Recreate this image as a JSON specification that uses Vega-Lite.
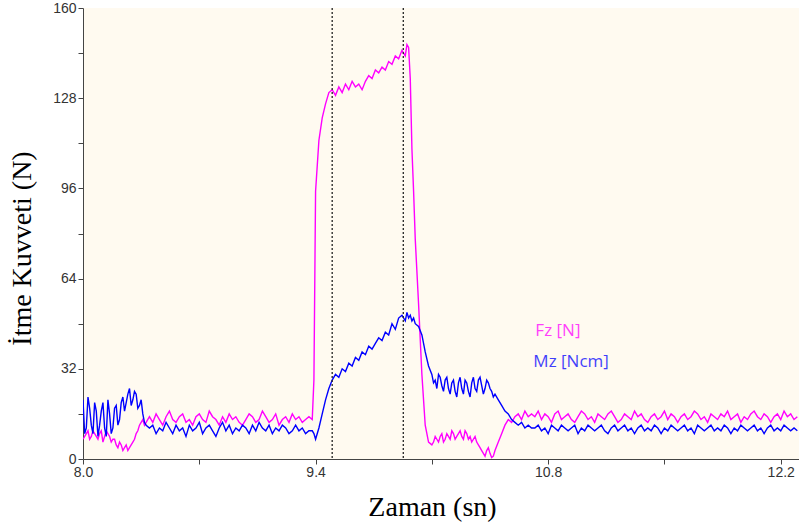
{
  "$schema": "https://vega.github.io/schema/vega-lite/v6.json",
  "width": 716,
  "height": 451,
  "autosize": {"type": "none"},
  "padding": {"left": 83, "top": 8, "right": 0, "bottom": 71},
  "background": "white",
  "config": {
    "view": {"fill": "#FFFAF0", "stroke": null},
    "axis": {
      "grid": false,
      "domainColor": "#444",
      "tickColor": "#444",
      "tickSize": 5,
      "labelColor": "#333",
      "labelFont": "Liberation Sans",
      "labelFontSize": 14,
      "labelFlush": false,
      "labelOverlap": false,
      "titleFont": "Liberation Serif",
      "titleFontWeight": "normal",
      "titleColor": "#000"
    }
  },
  "layer": [
    {
      "data": {
        "values": [
          {"t": 8.00, "fz": 7, "mz": 21}, {"t": 8.01, "fz": 8, "mz": 9}, {"t": 8.02, "fz": 9, "mz": 11}, {"t": 8.03, "fz": 10, "mz": 22},
          {"t": 8.04, "fz": 7, "mz": 18}, {"t": 8.05, "fz": 8, "mz": 12}, {"t": 8.06, "fz": 10, "mz": 9}, {"t": 8.07, "fz": 9, "mz": 20},
          {"t": 8.08, "fz": 8, "mz": 17}, {"t": 8.09, "fz": 7, "mz": 8}, {"t": 8.10, "fz": 9, "mz": 12}, {"t": 8.11, "fz": 10, "mz": 17},
          {"t": 8.12, "fz": 6, "mz": 20}, {"t": 8.13, "fz": 8, "mz": 11}, {"t": 8.14, "fz": 10, "mz": 8}, {"t": 8.15, "fz": 9, "mz": 21},
          {"t": 8.16, "fz": 8, "mz": 16}, {"t": 8.17, "fz": 6, "mz": 9}, {"t": 8.18, "fz": 7, "mz": 11}, {"t": 8.19, "fz": 7, "mz": 18},
          {"t": 8.20, "fz": 5, "mz": 19}, {"t": 8.21, "fz": 4, "mz": 12}, {"t": 8.22, "fz": 6, "mz": 14}, {"t": 8.23, "fz": 5, "mz": 20},
          {"t": 8.24, "fz": 3, "mz": 22}, {"t": 8.25, "fz": 4, "mz": 17}, {"t": 8.26, "fz": 5, "mz": 20}, {"t": 8.27, "fz": 3, "mz": 23},
          {"t": 8.28, "fz": 4, "mz": 25}, {"t": 8.29, "fz": 5, "mz": 19}, {"t": 8.30, "fz": 6, "mz": 21}, {"t": 8.31, "fz": 7, "mz": 24},
          {"t": 8.32, "fz": 9, "mz": 23}, {"t": 8.33, "fz": 10, "mz": 18}, {"t": 8.34, "fz": 12, "mz": 19}, {"t": 8.35, "fz": 13, "mz": 21},
          {"t": 8.36, "fz": 14, "mz": 16}, {"t": 8.37, "fz": 12, "mz": 13}, {"t": 8.38, "fz": 13, "mz": 12},
          {"t": 8.40, "fz": 15, "mz": 11}, {"t": 8.42, "fz": 13, "mz": 12}, {"t": 8.44, "fz": 16, "mz": 9}, {"t": 8.46, "fz": 14, "mz": 11},
          {"t": 8.48, "fz": 12, "mz": 10}, {"t": 8.50, "fz": 15, "mz": 13}, {"t": 8.52, "fz": 17, "mz": 11}, {"t": 8.54, "fz": 14, "mz": 9},
          {"t": 8.56, "fz": 13, "mz": 12}, {"t": 8.58, "fz": 15, "mz": 10},
          {"t": 8.60, "fz": 16, "mz": 11}, {"t": 8.62, "fz": 13, "mz": 8}, {"t": 8.64, "fz": 14, "mz": 12}, {"t": 8.66, "fz": 12, "mz": 10},
          {"t": 8.68, "fz": 15, "mz": 11}, {"t": 8.70, "fz": 16, "mz": 13}, {"t": 8.72, "fz": 14, "mz": 9}, {"t": 8.74, "fz": 13, "mz": 11},
          {"t": 8.76, "fz": 17, "mz": 12}, {"t": 8.78, "fz": 15, "mz": 10},
          {"t": 8.80, "fz": 14, "mz": 8}, {"t": 8.82, "fz": 12, "mz": 11}, {"t": 8.84, "fz": 15, "mz": 13}, {"t": 8.86, "fz": 13, "mz": 10},
          {"t": 8.88, "fz": 16, "mz": 12}, {"t": 8.90, "fz": 14, "mz": 9}, {"t": 8.92, "fz": 15, "mz": 11}, {"t": 8.94, "fz": 13, "mz": 10},
          {"t": 8.96, "fz": 12, "mz": 12}, {"t": 8.98, "fz": 14, "mz": 11},
          {"t": 9.00, "fz": 16, "mz": 9}, {"t": 9.02, "fz": 15, "mz": 12}, {"t": 9.04, "fz": 13, "mz": 10}, {"t": 9.06, "fz": 14, "mz": 13},
          {"t": 9.08, "fz": 17, "mz": 11}, {"t": 9.10, "fz": 15, "mz": 10}, {"t": 9.12, "fz": 13, "mz": 12}, {"t": 9.14, "fz": 14, "mz": 9},
          {"t": 9.16, "fz": 16, "mz": 11}, {"t": 9.18, "fz": 12, "mz": 10},
          {"t": 9.20, "fz": 14, "mz": 12}, {"t": 9.22, "fz": 15, "mz": 11}, {"t": 9.24, "fz": 13, "mz": 9}, {"t": 9.26, "fz": 16, "mz": 10},
          {"t": 9.28, "fz": 14, "mz": 12}, {"t": 9.30, "fz": 15, "mz": 10}, {"t": 9.32, "fz": 13, "mz": 11}, {"t": 9.34, "fz": 14, "mz": 9},
          {"t": 9.36, "fz": 15, "mz": 10}, {"t": 9.38, "fz": 14, "mz": 10},
          {"t": 9.39, "fz": 28, "mz": 9}, {"t": 9.40, "fz": 95, "mz": 7}, {"t": 9.42, "fz": 113, "mz": 11}, {"t": 9.44, "fz": 121, "mz": 16},
          {"t": 9.46, "fz": 126, "mz": 21}, {"t": 9.48, "fz": 130, "mz": 25}, {"t": 9.50, "fz": 131, "mz": 28}, {"t": 9.52, "fz": 129, "mz": 30},
          {"t": 9.54, "fz": 132, "mz": 29}, {"t": 9.56, "fz": 130, "mz": 32}, {"t": 9.58, "fz": 133, "mz": 31}, {"t": 9.60, "fz": 131, "mz": 34},
          {"t": 9.62, "fz": 134, "mz": 33}, {"t": 9.64, "fz": 132, "mz": 36}, {"t": 9.66, "fz": 133, "mz": 35}, {"t": 9.68, "fz": 131, "mz": 38},
          {"t": 9.70, "fz": 134, "mz": 37}, {"t": 9.72, "fz": 136, "mz": 40}, {"t": 9.74, "fz": 135, "mz": 39}, {"t": 9.76, "fz": 138, "mz": 41},
          {"t": 9.78, "fz": 137, "mz": 43}, {"t": 9.80, "fz": 139, "mz": 42}, {"t": 9.82, "fz": 138, "mz": 45}, {"t": 9.84, "fz": 141, "mz": 44},
          {"t": 9.86, "fz": 140, "mz": 48}, {"t": 9.88, "fz": 143, "mz": 46}, {"t": 9.90, "fz": 142, "mz": 50}, {"t": 9.92, "fz": 145, "mz": 51},
          {"t": 9.94, "fz": 143, "mz": 49}, {"t": 9.95, "fz": 147, "mz": 52}, {"t": 9.96, "fz": 146, "mz": 50}, {"t": 9.97, "fz": 135, "mz": 51},
          {"t": 9.98, "fz": 110, "mz": 49}, {"t": 9.99, "fz": 95, "mz": 50}, {"t": 10.00, "fz": 78, "mz": 48}, {"t": 10.02, "fz": 55, "mz": 47},
          {"t": 10.04, "fz": 30, "mz": 44}, {"t": 10.06, "fz": 12, "mz": 38}, {"t": 10.08, "fz": 6, "mz": 33}, {"t": 10.10, "fz": 5, "mz": 30},
          {"t": 10.11, "fz": 6, "mz": 27}, {"t": 10.12, "fz": 8, "mz": 28}, {"t": 10.13, "fz": 7, "mz": 25}, {"t": 10.14, "fz": 6, "mz": 30},
          {"t": 10.15, "fz": 8, "mz": 29}, {"t": 10.16, "fz": 9, "mz": 26}, {"t": 10.17, "fz": 6, "mz": 24}, {"t": 10.18, "fz": 7, "mz": 28},
          {"t": 10.19, "fz": 9, "mz": 29}, {"t": 10.20, "fz": 8, "mz": 25}, {"t": 10.21, "fz": 7, "mz": 23}, {"t": 10.22, "fz": 10, "mz": 27},
          {"t": 10.23, "fz": 9, "mz": 28}, {"t": 10.24, "fz": 7, "mz": 24}, {"t": 10.25, "fz": 8, "mz": 22}, {"t": 10.26, "fz": 9, "mz": 27},
          {"t": 10.27, "fz": 10, "mz": 29}, {"t": 10.28, "fz": 8, "mz": 25}, {"t": 10.29, "fz": 7, "mz": 23}, {"t": 10.30, "fz": 10, "mz": 28},
          {"t": 10.31, "fz": 9, "mz": 27}, {"t": 10.32, "fz": 7, "mz": 24}, {"t": 10.33, "fz": 8, "mz": 22}, {"t": 10.34, "fz": 6, "mz": 27},
          {"t": 10.35, "fz": 7, "mz": 29}, {"t": 10.36, "fz": 8, "mz": 25}, {"t": 10.37, "fz": 6, "mz": 24}, {"t": 10.38, "fz": 5, "mz": 28},
          {"t": 10.39, "fz": 4, "mz": 29}, {"t": 10.40, "fz": 3, "mz": 26}, {"t": 10.41, "fz": 2, "mz": 23}, {"t": 10.42, "fz": 1, "mz": 25},
          {"t": 10.43, "fz": 3, "mz": 28}, {"t": 10.44, "fz": 4, "mz": 27}, {"t": 10.45, "fz": 2, "mz": 25}, {"t": 10.46, "fz": 0.5, "mz": 24},
          {"t": 10.47, "fz": 1, "mz": 22}, {"t": 10.48, "fz": 3, "mz": 23}, {"t": 10.50, "fz": 6, "mz": 21},
          {"t": 10.52, "fz": 9, "mz": 19}, {"t": 10.54, "fz": 12, "mz": 17}, {"t": 10.56, "fz": 14, "mz": 16}, {"t": 10.58, "fz": 13, "mz": 14},
          {"t": 10.60, "fz": 15, "mz": 13}, {"t": 10.62, "fz": 16, "mz": 12}, {"t": 10.64, "fz": 14, "mz": 13}, {"t": 10.66, "fz": 17, "mz": 11},
          {"t": 10.68, "fz": 15, "mz": 12}, {"t": 10.70, "fz": 16, "mz": 11},
          {"t": 10.72, "fz": 15, "mz": 11}, {"t": 10.74, "fz": 17, "mz": 12}, {"t": 10.76, "fz": 14, "mz": 10}, {"t": 10.78, "fz": 16, "mz": 11},
          {"t": 10.80, "fz": 15, "mz": 9}, {"t": 10.82, "fz": 13, "mz": 12}, {"t": 10.84, "fz": 16, "mz": 11}, {"t": 10.86, "fz": 17, "mz": 10},
          {"t": 10.88, "fz": 14, "mz": 12}, {"t": 10.90, "fz": 15, "mz": 11},
          {"t": 10.92, "fz": 16, "mz": 10}, {"t": 10.94, "fz": 14, "mz": 11}, {"t": 10.96, "fz": 13, "mz": 12}, {"t": 10.98, "fz": 15, "mz": 9},
          {"t": 11.00, "fz": 17, "mz": 11}, {"t": 11.02, "fz": 16, "mz": 10}, {"t": 11.04, "fz": 14, "mz": 12}, {"t": 11.06, "fz": 15, "mz": 11},
          {"t": 11.08, "fz": 13, "mz": 10}, {"t": 11.10, "fz": 16, "mz": 11},
          {"t": 11.12, "fz": 15, "mz": 12}, {"t": 11.14, "fz": 14, "mz": 10}, {"t": 11.16, "fz": 16, "mz": 9}, {"t": 11.18, "fz": 17, "mz": 11},
          {"t": 11.20, "fz": 15, "mz": 12}, {"t": 11.22, "fz": 13, "mz": 10}, {"t": 11.24, "fz": 14, "mz": 11}, {"t": 11.26, "fz": 16, "mz": 12},
          {"t": 11.28, "fz": 15, "mz": 10}, {"t": 11.30, "fz": 14, "mz": 11},
          {"t": 11.32, "fz": 17, "mz": 9}, {"t": 11.34, "fz": 15, "mz": 11}, {"t": 11.36, "fz": 16, "mz": 12}, {"t": 11.38, "fz": 14, "mz": 10},
          {"t": 11.40, "fz": 13, "mz": 11}, {"t": 11.42, "fz": 15, "mz": 10}, {"t": 11.44, "fz": 16, "mz": 12}, {"t": 11.46, "fz": 14, "mz": 11},
          {"t": 11.48, "fz": 15, "mz": 9}, {"t": 11.50, "fz": 17, "mz": 11},
          {"t": 11.52, "fz": 14, "mz": 10}, {"t": 11.54, "fz": 16, "mz": 12}, {"t": 11.56, "fz": 15, "mz": 11}, {"t": 11.58, "fz": 13, "mz": 10},
          {"t": 11.60, "fz": 15, "mz": 11}, {"t": 11.62, "fz": 16, "mz": 12}, {"t": 11.64, "fz": 14, "mz": 10}, {"t": 11.66, "fz": 15, "mz": 11},
          {"t": 11.68, "fz": 17, "mz": 9}, {"t": 11.70, "fz": 16, "mz": 12},
          {"t": 11.72, "fz": 14, "mz": 11}, {"t": 11.74, "fz": 15, "mz": 10}, {"t": 11.76, "fz": 13, "mz": 11}, {"t": 11.78, "fz": 16, "mz": 12},
          {"t": 11.80, "fz": 15, "mz": 10}, {"t": 11.82, "fz": 14, "mz": 11}, {"t": 11.84, "fz": 16, "mz": 10}, {"t": 11.86, "fz": 15, "mz": 12},
          {"t": 11.88, "fz": 17, "mz": 11}, {"t": 11.90, "fz": 14, "mz": 9},
          {"t": 11.92, "fz": 15, "mz": 11}, {"t": 11.94, "fz": 16, "mz": 10}, {"t": 11.96, "fz": 13, "mz": 12}, {"t": 11.98, "fz": 15, "mz": 11},
          {"t": 12.00, "fz": 14, "mz": 10}, {"t": 12.02, "fz": 16, "mz": 11}, {"t": 12.04, "fz": 17, "mz": 12}, {"t": 12.06, "fz": 15, "mz": 10},
          {"t": 12.08, "fz": 14, "mz": 11}, {"t": 12.10, "fz": 16, "mz": 9},
          {"t": 12.12, "fz": 15, "mz": 11}, {"t": 12.14, "fz": 13, "mz": 12}, {"t": 12.16, "fz": 15, "mz": 10}, {"t": 12.18, "fz": 16, "mz": 11},
          {"t": 12.20, "fz": 14, "mz": 10}, {"t": 12.22, "fz": 17, "mz": 12}, {"t": 12.24, "fz": 15, "mz": 11}, {"t": 12.26, "fz": 16, "mz": 10},
          {"t": 12.28, "fz": 14, "mz": 11}, {"t": 12.30, "fz": 15, "mz": 10}
        ]
      },
      "transform": [{"fold": ["fz", "mz"], "as": ["series", "value"]}],
      "mark": {"type": "line", "strokeWidth": 1.4, "clip": true},
      "encoding": {
        "x": {
          "field": "t",
          "type": "quantitative",
          "scale": {"domain": [8, 12.31], "nice": false, "zero": false},
          "axis": {
            "values": [8, 8.7, 9.4, 10.1, 10.8, 11.5, 12.2],
            "format": ".1f",
            "labelExpr": "(round((datum.value - 8) * 10) % 14 == 0) ? format(datum.value, '.1f') : ''",
            "labelPadding": 1,
            "title": "Zaman (sn)",
            "titleFontSize": 28,
            "titlePadding": 14,
            "titleX": 349
          }
        },
        "y": {
          "field": "value",
          "type": "quantitative",
          "scale": {"domain": [0, 160], "nice": false},
          "axis": {
            "values": [0, 16, 32, 48, 64, 80, 96, 112, 128, 144, 160],
            "format": "d",
            "labelExpr": "(datum.value % 32 == 0) ? datum.label : ''",
            "labelPadding": 2,
            "title": "İtme Kuvveti (N)",
            "titleFontSize": 28,
            "titlePadding": 16,
            "titleY": 240
          }
        },
        "color": {
          "field": "series",
          "type": "nominal",
          "scale": {"domain": ["fz", "mz"], "range": ["#FF00FF", "#0000FF"]},
          "legend": null
        }
      }
    },
    {
      "data": {"values": [{"t": 9.5}, {"t": 9.928}]},
      "mark": {"type": "rule", "strokeDash": [2, 2], "color": "#222", "strokeWidth": 1.3},
      "encoding": {"x": {"field": "t", "type": "quantitative"}}
    },
    {
      "data": {
        "values": [
          {"t": 10.723, "v": 45.4, "label": "Fz [N]", "series": "fz"},
          {"t": 10.711, "v": 34.4, "label": "Mz [Ncm]", "series": "mz"}
        ]
      },
      "mark": {"type": "text", "align": "left", "baseline": "middle", "fontSize": 17, "font": "Open Sans", "opacity": 0.75},
      "encoding": {
        "x": {"field": "t", "type": "quantitative"},
        "y": {"field": "v", "type": "quantitative"},
        "text": {"field": "label"},
        "color": {"field": "series", "type": "nominal", "legend": null}
      }
    }
  ]
}
